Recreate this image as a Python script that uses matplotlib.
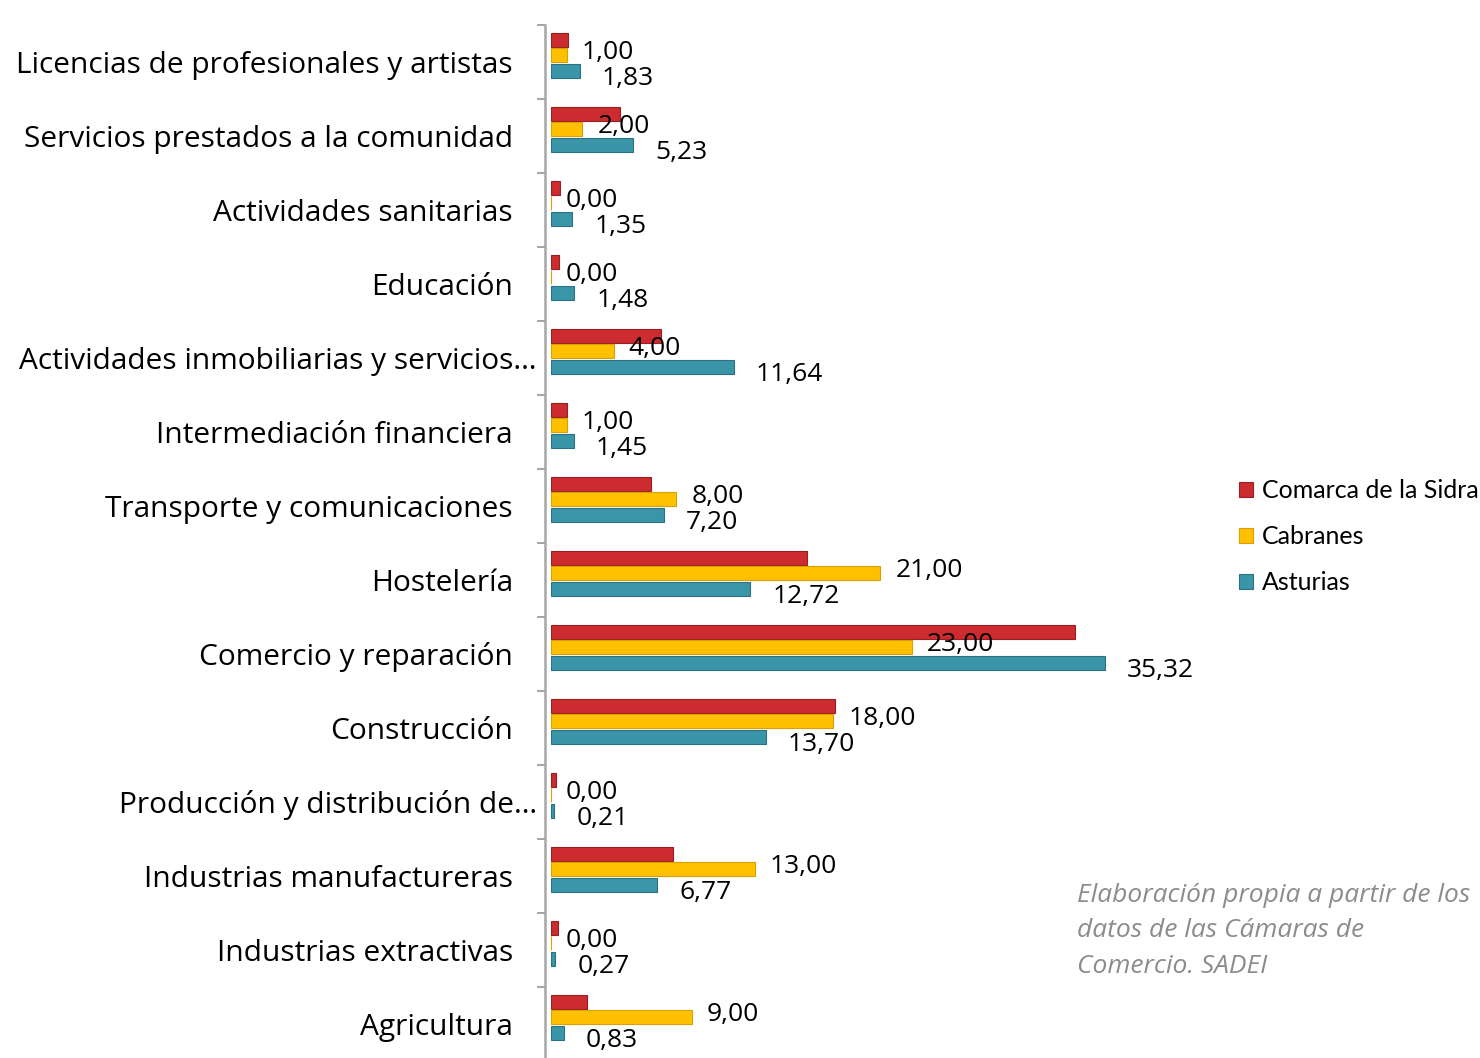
import matplotlib.pyplot as plt

categories = [
    "Licencias de profesionales y artistas",
    "Servicios prestados a la comunidad",
    "Actividades sanitarias",
    "Educación",
    "Actividades inmobiliarias y servicios…",
    "Intermediación financiera",
    "Transporte y comunicaciones",
    "Hostelería",
    "Comercio y reparación",
    "Construcción",
    "Producción y distribución de…",
    "Industrias manufactureras",
    "Industrias extractivas",
    "Agricultura",
]
comarca = [1.1, 4.4, 0.6, 0.5, 7.0, 1.0, 6.4, 16.3, 33.4, 18.1, 0.3, 7.8, 0.45, 2.3]
cabranes = [1.00, 2.00, 0.00, 0.00, 4.00, 1.00, 8.00, 21.00, 23.00, 18.00, 0.00, 13.00, 0.00, 9.00]
asturias = [1.83, 5.23, 1.35, 1.48, 11.64, 1.45, 7.20, 12.72, 35.32, 13.70, 0.21, 6.77, 0.27, 0.83]

series = ["Comarca de la Sidra", "Cabranes", "Asturias"]
colors = ["#cc2b2f", "#ffc000", "#3a95a8"]
edges = ["#9a1f22", "#d9a000", "#2a7282"]

FONT = "Open Sans"


def fmt(v):
    return f"{v:.2f}".replace(".", ",")


fig = plt.figure(figsize=(14.8, 10.58), dpi=100)
ax = fig.add_axes([551 / 1480, -3 / 1058, 40 * 15.68 / 1480, 1036 / 1058])

n = len(categories)
ys = list(range(n))
offsets = [-0.30, -0.09, 0.12]
h = 0.19

for vals, off, c, ec, name in zip([comarca, cabranes, asturias], offsets, colors, edges, series):
    ax.barh([y + off for y in ys], vals, height=h, color=c, edgecolor=ec,
            linewidth=0.8, label=name, zorder=3)

# value labels (only Cabranes and Asturias are labelled)
for y, v in zip(ys, cabranes):
    ax.annotate(fmt(v), xy=(v, y + offsets[1]), xytext=(15, 3), textcoords="offset pixels",
                ha="left", va="center", fontsize=19, family=FONT, color="black", zorder=5)
for y, v in zip(ys, asturias):
    ax.annotate(fmt(v), xy=(v, y + offsets[2]), xytext=(22, -8), textcoords="offset pixels",
                ha="left", va="center", fontsize=19, family=FONT, color="black", zorder=5)

# category labels
for y, cat in zip(ys, categories):
    dx = -14 if cat.endswith("…") else -38
    ax.annotate(cat, xy=(0, y), xycoords=("axes fraction", "data"), xytext=(dx, -3),
                textcoords="offset pixels", ha="right", va="center",
                fontsize=21.5, family=FONT, color="black", annotation_clip=False)

ax.set_xlim(0, 40)
ax.set_ylim(n - 0.5, -0.5)
ax.set_xticks([])
ax.set_yticks([])
ax.set_yticks([y - 0.5 for y in range(n + 1)], minor=True)
ax.tick_params(axis="y", which="minor", direction="out", length=6, width=1.5, color="#a6a6a6")
ax.tick_params(axis="y", which="minor", labelleft=False)
for s in ["top", "right", "bottom"]:
    ax.spines[s].set_visible(False)
ax.spines["left"].set_color("#a6a6a6")
ax.spines["left"].set_linewidth(1.8)
ax.spines["left"].set_position(("outward", 4))
ax.patch.set_alpha(0)

fig.legend(loc="upper left", bbox_to_anchor=(1229 / 1480, 1 - 469 / 1058),
           frameon=False, prop={"family": "Lato", "size": 18},
           handlelength=0.55, handleheight=0.55, handletextpad=0.35,
           labelspacing=0.93, borderaxespad=0)

fig.text(1077 / 1480, 1 - 883 / 1058,
         "Elaboración propia a partir de los\ndatos de las Cámaras de\nComercio. SADEI",
         ha="left", va="top", fontsize=19, family=FONT, style="italic",
         color="#8c8c8c", linespacing=1.55)

fig.savefig("out.png", dpi=100)
